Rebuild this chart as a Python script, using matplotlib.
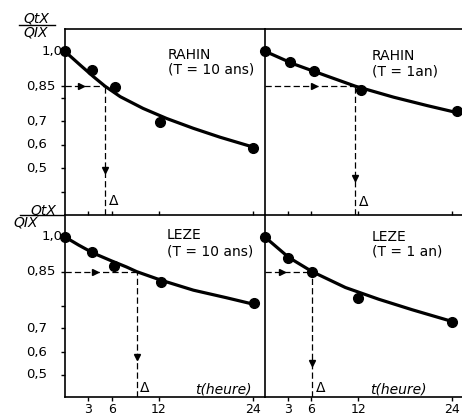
import matplotlib
matplotlib.use('Agg')
import matplotlib.pyplot as plt
import numpy as np
from matplotlib.lines import Line2D
from matplotlib.transforms import blended_transform_factory

W, H = 462, 416

rahin10_t = [0, 3.5, 6.4, 12.1, 24]
rahin10_q = [1.0, 0.919, 0.847, 0.698, 0.588]
rahin10_fit_t = [0, 2.0, 3.7, 5.15, 7.1, 10.0, 13.0, 16.4, 19.8, 24]
rahin10_fit_q = [1.0, 0.940, 0.890, 0.85, 0.805, 0.755, 0.712, 0.670, 0.632, 0.590]

rahin1_t = [0, 3.3, 6.3, 12.4, 24.6]
rahin1_q = [1.0, 0.952, 0.914, 0.834, 0.743]
rahin1_fit_t = [0, 3.7, 8.0, 11.6, 16.5, 20.8, 25.0]
rahin1_fit_q = [1.0, 0.945, 0.893, 0.85, 0.803, 0.767, 0.734]

leze10_t = [0, 3.5, 6.3, 12.3, 24.1]
leze10_q = [1.0, 0.933, 0.876, 0.823, 0.766]
leze10_fit_t = [0, 1.8, 3.7, 6.0, 7.9, 9.2, 12.2, 16.4, 20.6, 24.0]
leze10_fit_q = [1.0, 0.964, 0.929, 0.896, 0.870, 0.85, 0.828, 0.801, 0.781, 0.764]

leze1_t = [0, 3.05, 6.1, 12.0, 24.0]
leze1_q = [1.0, 0.907, 0.85, 0.780, 0.716]
leze1_fit_t = [0, 3.1, 6.1, 10.35, 14.6, 18.9, 24.0]
leze1_fit_q = [1.0, 0.911, 0.85, 0.808, 0.777, 0.749, 0.718]

level = 0.85
delta_t = [5.15, 11.6, 9.2, 6.1]         # time at which the curve reaches 0.85
stations = ['RAHIN', 'RAHIN', 'LEZE', 'LEZE']
periods = ['(T = 10 ans)', '(T = 1an)', '(T = 10 ans)', '(T = 1 an)']

x_ticks = [3, 6, 12, 24]
top_yticks = [1.0, 0.85, 0.8, 0.7, 0.6, 0.5, 0.4]
top_ylabels = ['1,0', '0,85', '', '0,7', '0,6', '0,5', '']
bot_yticks = [1.0, 0.85, 0.76, 0.7, 0.6, 0.5]
bot_ylabels = ['1,0', '0,85', '', '0,7', '0,6', '0,5']

# the lower graphs use an uneven vertical scale (0.85 -> 0.7 is stretched)
bot_scale_q = [0.3, 0.4, 0.5, 0.6, 0.7, 0.85, 1.0, 1.2]
bot_scale_h = [-22, 0, 22, 44.7, 68.7, 125.3, 160.3, 206.9]


def fwd(v):
    return np.interp(v, bot_scale_q, bot_scale_h)


def inv(h):
    return np.interp(h, bot_scale_h, bot_scale_q)


fig = plt.figure(figsize=(W / 100, H / 100), dpi=100)
x0, xm = 64.5 / W, 264.5 / W
ytop, ymid, ybot = 1 - 29 / H, 1 - 215 / H, 1 - 397 / H
ax_tl = fig.add_axes([x0, ymid, xm - x0, ytop - ymid])
ax_tr = fig.add_axes([xm, ymid, 1 - xm, ytop - ymid])
ax_bl = fig.add_axes([x0, ybot, xm - x0, ymid - ybot])
ax_br = fig.add_axes([xm, ybot, 1 - xm, ymid - ybot])
axes = [ax_tl, ax_tr, ax_bl, ax_br]

for ax in (ax_bl, ax_br):
    ax.set_yscale('function', functions=(fwd, inv))
    ax.set_ylim(0.40, 1.093)
for ax in (ax_tl, ax_tr):
    ax.set_ylim(0.30, 1.094)
for ax in (ax_tl, ax_bl):
    ax.set_xlim(0, 25.45)
for ax in (ax_tr, ax_br):
    ax.set_xlim(0, 25.25)

for ax in axes:
    ax.spines['right'].set_visible(False)
    for s in ('top', 'left', 'bottom'):
        ax.spines[s].set_linewidth(1.2)
    ax.tick_params(direction='out', length=3, width=1, labelsize=9, pad=1)
for ax in (ax_tl, ax_tr):
    ax.spines['bottom'].set_visible(False)
    ax.set_xticks([])
for ax in (ax_bl, ax_br):
    ax.set_xticks(x_ticks)
    ax.tick_params(axis='x', top=True)
for ax in (ax_tr, ax_br):
    ax.set_yticks([])

# y tick marks with labels placed as in the original
for ax, ticks, labels in [(ax_tl, top_yticks, top_ylabels), (ax_bl, bot_yticks, bot_ylabels)]:
    ax.set_yticks(ticks)
    ax.set_yticklabels([''] * len(ticks))
    ax.yaxis.set_minor_locator(matplotlib.ticker.NullLocator())
    ytr = blended_transform_factory(fig.transFigure, ax.transData)
    for v, lab in zip(ticks, labels):
        if lab:
            xl = 42 if lab == '1,0' else 26
            ax.text(xl / W, v, lab, transform=ytr, ha='left', va='center', fontsize=9.5)

panels = [
    (ax_tl, rahin10_t, rahin10_q, rahin10_fit_t, rahin10_fit_q, 0.40, 0.49, (0.517, 0.860, 0.780), 5),
    (ax_tr, rahin1_t, rahin1_q, rahin1_fit_t, rahin1_fit_q, 0.55, 0.457, (0.544, 0.855, 0.769), 4),
    (ax_bl, leze10_t, leze10_q, leze10_fit_t, leze10_fit_q, 0.42, 0.58, (0.512, 0.890, 0.802), 1.5),
    (ax_br, leze1_t, leze1_q, leze1_fit_t, leze1_fit_q, 0.37, 0.553, (0.544, 0.879, 0.797), 1.5),
]
dash = (0, (5, 2.5))
for i, (ax, t, q, ft, fq, hfrac, varrow, (tx, ty1, ty2), dy) in enumerate(panels):
    tc = delta_t[i]
    ylo = ax.get_ylim()[0]
    ax.plot(ft, fq, color='black', lw=2.3, solid_capstyle='round', solid_joinstyle='round', zorder=4)
    ax.plot(t, q, 'o', color='black', ms=7, clip_on=False, zorder=5)
    ax.plot([0, tc], [level, level], color='black', lw=0.9, ls=dash, zorder=3)
    ax.plot([tc, tc], [ylo, level], color='black', lw=0.9, ls=dash, zorder=3)
    ax.plot(tc * hfrac, level, marker='>', ms=4.5, color='black', zorder=3)
    ax.plot(tc, varrow, marker='v', ms=4.5, color='black', zorder=3)
    ax.annotate('Δ', xy=(tc, ylo), xytext=(2.5, dy), textcoords='offset points',
                ha='left', va='bottom', fontsize=10)
    ax.text(tx, ty1, stations[i], transform=ax.transAxes, ha='left', va='center', fontsize=10)
    ax.text(tx, ty2, periods[i], transform=ax.transAxes, ha='left', va='center', fontsize=10)

for ax, xf in [(ax_bl, 0.652), (ax_br, 0.534)]:
    ax.text(xf, 0.04, 't(heure)', transform=ax.transAxes, ha='left', va='center',
            fontsize=10, style='italic')

# y-axis quantity written as a fraction
for (nx, ny), (lx0, lx1, ly), (dx, dyy) in [((36.5, 19), (19, 55, 25), (36, 32)),
                                              ((43, 210), (20, 63, 215), (26, 223))]:
    fig.text(nx / W, 1 - ny / H, 'QtX', ha='center', va='center', fontsize=10, style='italic')
    fig.text(dx / W, 1 - dyy / H, 'QIX', ha='center', va='center', fontsize=10, style='italic')
    fig.add_artist(Line2D([lx0 / W, lx1 / W], [1 - ly / H, 1 - ly / H], color='black', lw=1,
                          transform=fig.transFigure))

fig.savefig('out.png', dpi=100)
